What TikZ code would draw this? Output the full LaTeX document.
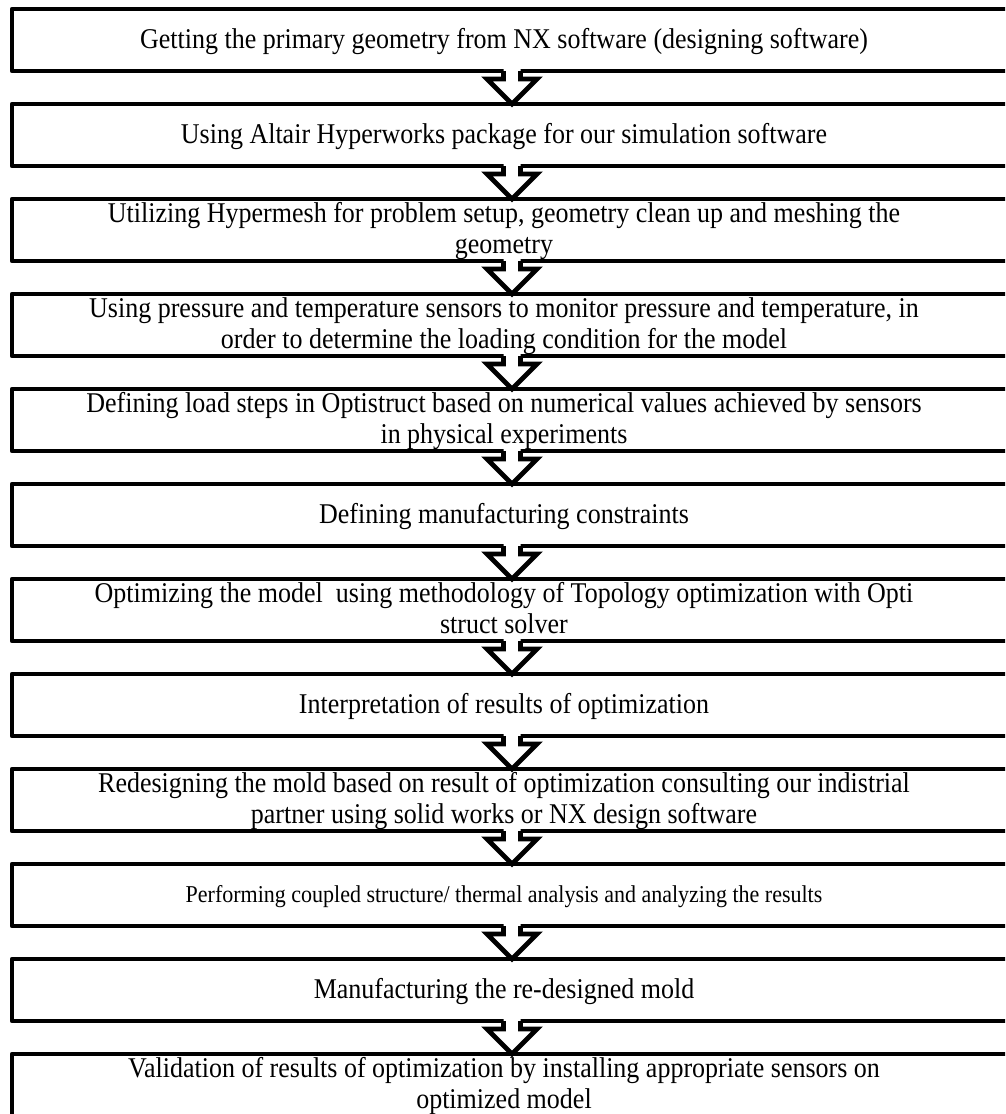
\documentclass[tikz,border=0pt]{standalone}
\usepackage{fontspec}
\usepackage{graphicx}
\setmainfont{Liberation Serif}
\usetikzlibrary{calc}
\newcommand\bt[1]{\scalebox{1}[1.1]{\begin{tabular}{@{}c@{}}#1\end{tabular}}}
\tikzset{
  boxstyle/.style={draw=black, line width=4.8pt, minimum width=1000pt, minimum height=62pt,
    outer sep=0pt, inner sep=0pt, line join=round},
  txt/.style={font=\fontsize{26}{27.5}\selectfont, align=center, inner sep=0pt},
  smalltxt/.style={font=\fontsize{22}{24}\selectfont, align=center, inner sep=0pt},
  arrowline/.style={draw=black, line width=4.8pt, line join=miter},
}
\newcommand\flowarrow[2]{%
  \path[fill=white] ($(#1.south)+(-8.5,-2.7)$) -- ($(#1.south)+(-8.5,8)$) -- ($(#1.south)+(-25,8)$)
     -- (#2.north) -- ($(#1.south)+(25,8)$) -- ($(#1.south)+(8.5,8)$) -- ($(#1.south)+(8.5,-2.7)$) -- cycle;
  \draw[arrowline] ($(#1.south)+(-8.5,0)$) -- ($(#1.south)+(-8.5,8)$) -- ($(#1.south)+(-25,8)$)
     -- (#2.north) -- ($(#1.south)+(25,8)$) -- ($(#1.south)+(8.5,8)$) -- ($(#1.south)+(8.5,0)$);
}
\begin{document}
\begin{tikzpicture}[x=1pt,y=-1pt]
\useasboundingbox (0,0) rectangle (1005,1114);
\clip (0,0) rectangle (1005,1114);
\fill[white] (0,0) rectangle (1005,1114);
% boxes
\node[boxstyle] (b1) at (512,40) {};
\node[boxstyle] (b2) at (512,135) {};
\node[boxstyle] (b3) at (512,230) {};
\node[boxstyle] (b4) at (512,325) {};
\node[boxstyle] (b5) at (512,420) {};
\node[boxstyle] (b6) at (512,515) {};
\node[boxstyle] (b7) at (512,610) {};
\node[boxstyle] (b8) at (512,705) {};
\node[boxstyle] (b9) at (512,800) {};
\node[boxstyle] (b10) at (512,895) {};
\node[boxstyle] (b11) at (512,990) {};
\node[boxstyle] (b12) at (512,1085) {};
% texts
\node[txt] (t1) at ($(b1.center)+(-8,2)$) {\bt{Getting the primary geometry from NX software (designing software)}};
\node[txt] (t2) at ($(b2.center)+(-8,2)$) {\bt{Using Altair Hyperworks package for our simulation software}};
\node[txt,anchor=north] (t3) at ($(b3.north)+(-8,2.5)$) {\bt{Utilizing Hypermesh for problem setup, geometry clean up and meshing the\\geometry}};
\node[txt,anchor=north] (t4) at ($(b4.north)+(-8,2.5)$) {\bt{Using pressure and temperature sensors to monitor pressure and temperature, in\\order to determine the loading condition for the model}};
\node[txt,anchor=north] (t5) at ($(b5.north)+(-8,2.5)$) {\bt{Defining load steps in Optistruct based on numerical values achieved by sensors\\in physical experiments}};
\node[txt] (t6) at ($(b6.center)+(-8,2)$) {\bt{Defining manufacturing constraints}};
\node[txt,anchor=north] (t7) at ($(b7.north)+(-8,2.5)$) {\bt{Optimizing the model\ \ using methodology of Topology optimization with Opti\\struct solver}};
\node[txt] (t8) at ($(b8.center)+(-8,2)$) {\bt{Interpretation of results of optimization}};
\node[txt,anchor=north] (t9) at ($(b9.north)+(-8,2.5)$) {\bt{Redesigning the mold based on result of optimization consulting our indistrial\\partner using solid works or NX design software}};
\node[smalltxt] (t10) at ($(b10.center)+(-8,2)$) {\bt{Performing coupled structure/ thermal analysis and analyzing the results}};
\node[txt] (t11) at ($(b11.center)+(-8,2)$) {\bt{Manufacturing the re-designed mold}};
\node[txt,anchor=north] (t12) at ($(b12.north)+(-8,2.5)$) {\bt{Validation of results of optimization by installing appropriate sensors on\\optimized model}};
% arrows
\flowarrow{b1}{b2}
\flowarrow{b2}{b3}
\flowarrow{b3}{b4}
\flowarrow{b4}{b5}
\flowarrow{b5}{b6}
\flowarrow{b6}{b7}
\flowarrow{b7}{b8}
\flowarrow{b8}{b9}
\flowarrow{b9}{b10}
\flowarrow{b10}{b11}
\flowarrow{b11}{b12}
\end{tikzpicture}
\end{document}
